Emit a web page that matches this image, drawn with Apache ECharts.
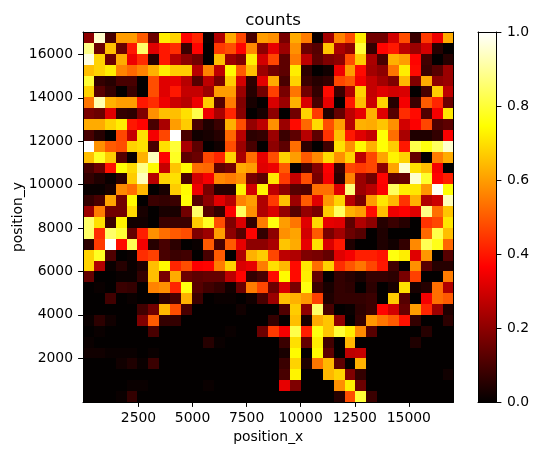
<!DOCTYPE html>
<html><head><meta charset="utf-8">
<style>html,body{margin:0;padding:0;background:#fff}#c{width:538px;height:455px}</style>
<script src="https://cdn.jsdelivr.net/npm/echarts@6/dist/echarts.min.js"></script>
</head><body><div id="c"></div>
<script>
const xTicks=[2500,5000,7500,10000,12500,15000];
const yTicks=[2000,4000,6000,8000,10000,12000,14000,16000];
const barTicks=[0,0.2,0.4,0.6,0.8,1];
const xRange=[-65,17065];
const yRange=[-20,17030];
// rows top to bottom, columns left to right
const counts=[
[.20,.95,.10,.60,.60,.50,.15,.72,.68,.37,.42,.01,.25,.62,.47,.10,.60,.58,.17,.62,.55,.01,.23,.56,.48,.72,.16,.16,.30,.48,.08,.45,.34,.62],
[.88,.15,.65,.15,.40,.85,.32,.40,.43,.08,.37,0,.45,.48,.37,.57,.20,.33,.22,.58,.15,.12,.66,.24,.20,.80,.07,.37,.40,.27,.22,.30,.05,0],
[.97,.68,.15,.62,.34,.43,.05,.40,.26,.20,.16,0,.65,.22,.18,.72,.30,.47,.13,.55,.27,.13,.18,.20,.48,.67,.24,.10,.63,.60,.37,.09,0,.05],
[.65,.68,.72,.56,.52,.56,.63,.72,.67,.67,.26,.56,.27,.74,.50,.65,.22,.16,.13,.72,.06,0,.02,.34,.60,.38,.23,.20,.54,.72,.38,.08,.12,.22],
[.80,.07,.05,.10,.10,0,.48,.32,.33,.26,.12,.27,.17,.67,.30,.06,.32,.62,.10,.68,.08,.05,.07,.47,.50,.35,.28,.23,.18,.64,.18,.62,.20,.22],
[.68,.12,.07,0,.08,0,.48,.32,.40,.28,.28,.22,.60,.60,.22,.05,.16,.46,.17,.54,.16,.07,.38,.08,.25,.68,.28,.32,.30,.31,0,.10,.67,.27],
[.54,.92,.63,.60,.60,.40,.43,.34,.29,.26,.34,.67,.12,.55,.18,.03,0,.31,.22,.63,.31,.10,.33,0,.40,.65,.29,.68,.05,.35,.08,.50,.42,.15],
[.17,.15,.32,.07,.06,.18,.58,.65,.65,.70,.82,.34,.24,.42,.19,0,.03,.20,0,.16,.68,.45,.04,.14,.27,.33,.63,.32,.12,.43,.38,.11,.35,.71],
[.62,.62,.68,.72,.40,.37,.10,.24,.60,.67,.10,.04,.08,.63,.48,.21,.27,.58,.22,.38,.52,.69,.48,.60,.26,.63,.62,.66,.58,.30,.36,.47,.11,.13],
[.10,.05,0,.47,.28,.70,.35,.47,1,.10,.02,.03,.05,.52,.26,.06,.07,.22,.08,.13,.26,.13,.44,.65,.40,.32,.28,.75,.53,.24,.04,.04,.07,.36],
[1,.58,.50,.48,.68,.70,.10,.70,.80,.24,.13,0,.02,.48,.22,.10,0,.20,.13,.53,.06,0,.09,.70,.58,.74,.63,.75,.67,.40,.82,.76,.84,.95],
[.65,.78,.67,.12,.01,.63,.93,.37,.78,.13,.15,.47,.42,.68,.24,.53,.33,.48,.68,.60,.50,.57,.69,.58,.68,.27,.47,.61,.73,.68,.14,0,.55,.62],
[.10,.15,.39,.75,.69,.88,.74,.28,.66,.74,.53,.52,.13,.16,.62,.60,.32,.34,.50,0,.09,.19,.36,.08,.47,.45,.47,.20,.61,.95,.70,.65,.35,0],
[.07,.04,.01,.06,.67,.93,.26,.68,.70,.10,.30,.35,.57,.55,.58,.17,.13,.71,.45,.28,.48,.17,.35,.06,.56,.22,.16,.37,.13,.14,.95,.79,.37,.41],
[.01,.01,.03,.57,.53,.64,0,.03,.67,.74,.34,.17,.05,.05,.73,.30,.73,.27,.20,.12,.11,.53,.53,.32,.87,.22,.26,.36,.84,.72,.71,.59,.99,.75],
[.07,.10,.61,.16,.74,0,.08,.07,.08,.75,.12,.20,.32,.26,.56,.60,.25,.45,.65,.22,.50,.32,.59,.68,.26,.17,.60,.71,.64,.44,.63,.25,.29,.93],
[.22,.55,.16,.16,.69,.03,0,.03,.03,.16,.85,.12,.07,.36,.84,.58,.25,.31,.21,.12,.21,.17,.67,.84,.63,.60,.38,.65,.34,.36,.32,.88,.53,.66],
[.85,.70,.08,.73,.02,.02,0,.08,.08,.08,.67,.78,.48,.18,.31,.07,.55,.76,.60,.54,.32,.69,.33,.32,.13,.25,.20,.05,.08,.05,0,.44,.47,.71],
[.85,.43,.85,.80,.14,.41,.58,.53,.50,.48,.18,.22,.60,.20,.12,.37,.07,.20,.58,.61,.30,.50,.17,.23,.15,.12,0,.04,0,0,0,.52,.82,.65],
[.06,.45,1,.38,.83,.35,.05,.10,.06,0,.01,.50,.10,.50,.33,.20,.20,.24,.66,.62,.33,.70,.31,.40,.04,0,0,.04,.02,.07,.57,.83,.77,.52],
[.68,.78,.11,0,.01,.43,.46,.10,.08,.09,0,.10,.50,0,.25,.63,.67,.47,.27,.25,.18,.17,.14,.32,.35,.41,.41,.39,.76,.72,.32,.59,0,.12],
[.68,.25,.01,.05,.01,.04,.65,.74,.42,.48,.36,.37,.55,.68,.31,.33,.55,.70,.64,.38,.71,.53,.68,.43,.49,.54,.47,.40,.09,0,.58,.12,.05,.05],
[.14,0,0,.01,.01,.07,.65,.17,.62,.15,.13,.14,.14,.27,.37,.07,.10,.38,.74,.38,.72,.14,0,.07,.05,.03,.07,.07,.06,.17,.46,0,0,.55],
[0,.01,0,.08,.07,0,.56,.58,.42,.76,.12,.09,.07,.02,.15,.55,.47,.15,.31,.17,.76,.08,.03,.07,.06,0,.06,0,.03,.70,.03,.05,.53,.25],
[0,0,.09,0,.01,0,0,.06,.10,.63,.08,0,.01,.01,0,.02,.10,.22,.65,.63,.59,.46,.04,.07,.07,.07,.08,0,.67,.12,0,.35,.53,.50],
[0,0,0,0,0,.09,.16,.64,.48,.10,0,0,0,0,.02,0,0,0,.11,.67,.20,.85,.10,0,.01,.06,.08,.37,.30,.14,.60,.42,.22,.04],
[.01,.06,.02,0,0,.18,.50,.07,.07,0,0,0,0,0,0,0,0,.07,0,.65,.03,.62,.66,.20,0,.07,.59,.54,.50,.39,.07,0,0,.06],
[0,.01,0,0,0,0,.10,0,0,0,0,0,0,.01,0,0,.15,.45,.35,.82,.41,.76,.66,.80,.72,.57,.12,0,0,0,0,.05,0,0],
[.01,0,0,0,0,0,0,0,0,0,0,.05,.01,0,0,0,0,0,.08,.70,.14,.72,.09,0,.64,0,0,0,0,0,.04,0,0,0],
[.02,.02,.01,.01,.01,0,.01,0,0,0,0,0,0,0,0,0,0,0,.03,.74,0,.74,.13,0,.27,.28,0,0,0,0,0,0,0,0],
[0,0,0,.02,.04,.01,.08,0,0,0,0,0,0,0,0,0,0,0,.08,.68,.04,.54,.64,.13,0,.63,0,0,0,0,0,0,0,0],
[0,0,0,0,0,0,0,0,0,0,0,0,0,0,0,0,0,0,.10,.73,0,0,.64,.68,.18,.07,0,0,0,0,0,0,0,.02],
[0,0,0,0,.01,.01,0,0,0,0,0,.01,0,0,0,0,0,0,.33,.18,0,0,0,.58,.72,.15,0,0,0,0,0,0,0,0],
[0,0,0,.01,.07,0,0,0,0,0,0,0,0,0,0,0,0,0,0,0,0,0,0,.05,.48,.80,.08,0,0,0,0,0,0,0]
];
// matplotlib "hot" colormap anchors
const hotStops=[[0,[3,0,0]],[.365,[255,0,0]],[.746,[255,255,0]],[1,[255,255,255]]];
function hot(v){
  for(let i=1;i<hotStops.length;i++){
    const [a,ca]=hotStops[i-1],[b,cb]=hotStops[i];
    if(v<=b){const t=(v-a)/(b-a);
      return 'rgb('+ca.map((c,k)=>Math.round(c+(cb[k]-c)*t)).join(',')+')';}
  }
  return '#fff';
}
const font='"DejaVu Sans"';
const cells=[];
counts.forEach((row,r)=>row.forEach((v,c)=>cells.push([c,counts.length-1-r,v])));
const nC=counts[0].length,nR=counts.length;
const bw=(xRange[1]-xRange[0])/nC,bh=(yRange[1]-yRange[0])/nR;
const axisBase={axisLine:{show:true,onZero:false,lineStyle:{color:'#000',width:1}},splitLine:{show:false},z:10};
const chart=echarts.init(document.getElementById('c'),null,{renderer:'canvas'});
chart.setOption({
  animation:false,
  backgroundColor:'#fff',
  textStyle:{fontFamily:font},
  title:{text:'counts',left:268,top:7,textAlign:'center',textStyle:{fontFamily:font,fontSize:16.67,fontWeight:'normal',color:'#000'}},
  grid:[{left:83,top:32,width:370.5,height:370,outerBoundsMode:'none'},{left:478,top:32,width:18.5,height:370,outerBoundsMode:'none'}],
  xAxis:[
    {...axisBase,type:'value',gridIndex:0,min:xRange[0],max:xRange[1],position:'bottom',name:'position_x',nameLocation:'middle',nameMoveOverlap:false,nameGap:28,nameTextStyle:{fontSize:13.9,color:'#000',fontFamily:font},
     axisTick:{show:true,length:4.9,lineStyle:{color:'#000',width:1},customValues:xTicks},
     axisLabel:{show:true,fontSize:13.9,color:'#000',margin:9,fontFamily:font,customValues:xTicks,formatter:v=>String(v)}},
    {...axisBase,type:'value',gridIndex:0,min:xRange[0],max:xRange[1],position:'top',axisTick:{show:false},axisLabel:{show:false}},
    {...axisBase,type:'value',gridIndex:1,min:0,max:1,position:'bottom',axisTick:{show:false},axisLabel:{show:false}},
    {...axisBase,type:'value',gridIndex:1,min:0,max:1,position:'top',axisTick:{show:false},axisLabel:{show:false}}
  ],
  yAxis:[
    {...axisBase,type:'value',gridIndex:0,min:yRange[0],max:yRange[1],position:'left',name:'position_y',nameLocation:'middle',nameMoveOverlap:false,nameGap:58,nameTextStyle:{fontSize:13.9,color:'#000',fontFamily:font},
     axisTick:{show:true,length:4.9,lineStyle:{color:'#000',width:1},customValues:yTicks},
     axisLabel:{show:true,fontSize:13.9,color:'#000',margin:10,fontFamily:font,customValues:yTicks,formatter:v=>String(v)}},
    {...axisBase,type:'value',gridIndex:0,min:yRange[0],max:yRange[1],position:'right',axisTick:{show:false},axisLabel:{show:false}},
    {...axisBase,type:'value',gridIndex:1,min:0,max:1,interval:.2,position:'right',
     axisTick:{show:true,length:4.9,lineStyle:{color:'#000',width:1}},
     axisLabel:{show:true,fontSize:13.9,color:'#000',margin:10.5,fontFamily:font,formatter:v=>v.toFixed(1)}},
    {...axisBase,type:'value',gridIndex:1,min:0,max:1,position:'left',axisTick:{show:false},axisLabel:{show:false}}
  ],
  series:[
    {type:'custom',xAxisIndex:0,yAxisIndex:0,z:1,clip:true,data:cells,silent:true,
     encode:{x:0,y:1},
     renderItem(p,api){
       const c=api.value(0),r=api.value(1),v=api.value(2);
       const a=api.coord([xRange[0]+c*bw,yRange[0]+(r+1)*bh]).map(Math.round);
       const b=api.coord([xRange[0]+(c+1)*bw,yRange[0]+r*bh]).map(Math.round);
       return {type:'rect',shape:{x:a[0],y:a[1],width:b[0]-a[0],height:b[1]-a[1]},style:{fill:hot(v)}};
     }},
    {type:'custom',xAxisIndex:2,yAxisIndex:2,z:1,data:[[0,0]],silent:true,
     renderItem(p,api){
       const a=api.coord([0,1]),b=api.coord([1,0]);
       return {type:'rect',shape:{x:a[0],y:a[1],width:b[0]-a[0],height:b[1]-a[1]},
         style:{fill:new echarts.graphic.LinearGradient(0,1,0,0,hotStops.map(s=>({offset:s[0],color:'rgb('+s[1].join(',')+')'})))}};
     }}
  ]
});
</script></body></html>
